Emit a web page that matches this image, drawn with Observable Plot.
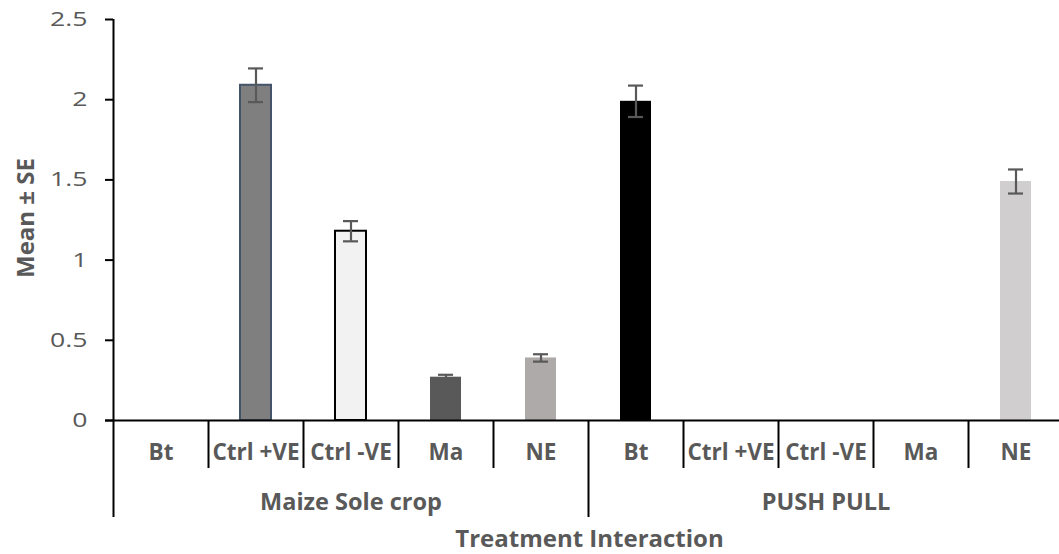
<!DOCTYPE html>
<html>
<head>
<meta charset="utf-8">
<script src="https://cdn.jsdelivr.net/npm/d3@7"></script>
<script src="https://cdn.jsdelivr.net/npm/@observablehq/plot@0.6"></script>
<style>
  html, body { margin: 0; padding: 0; background: #fff; }
  #chart svg { display: block; }
</style>
</head>
<body>
<div id="chart"></div>
<script>
// Cropping system and treatment for each of the ten bars
const systems = ["Maize Sole crop", "Maize Sole crop", "Maize Sole crop", "Maize Sole crop", "Maize Sole crop",
                 "PUSH PULL", "PUSH PULL", "PUSH PULL", "PUSH PULL", "PUSH PULL"];
const treatments = ["Bt", "Ctrl +VE", "Ctrl -VE", "Ma", "NE",
                    "Bt", "Ctrl +VE", "Ctrl -VE", "Ma", "NE"];
// Mean and standard error (0 where the combination has no value)
const means = [0, 2.09, 1.18, 0.27, 0.39, 1.99, 0, 0, 0, 1.49];
const errors = [0, 0.105, 0.063, 0.015, 0.023, 0.098, 0, 0, 0, 0.075];
const yTicks = [0, 0.5, 1, 1.5, 2, 2.5];
const systemNames = ["Maize Sole crop", "PUSH PULL"];

// Bar appearance per slot
const fillBySlot = ["none", "#7f7f7f", "#f2f2f2", "#595959", "#aeaaaa", "#000000", "none", "none", "none", "#d0cece"];
const strokeBySlot = ["none", "#44546a", "#000000", "none", "none", "none", "none", "none", "none", "none"];

const rows = treatments.map((t, i) => ({
  key: `${systems[i]}|${t}`,
  system: systems[i],
  treatment: t,
  mean: means[i],
  se: errors[i],
  fill: fillBySlot[i],
  stroke: strokeBySlot[i]
}));
const keys = rows.map(d => d.key);
const withValue = rows.filter(d => d.mean > 0);

// Layout of the plotting frame
const W = 1059, H = 554;
const frameLeft = 113, frameRight = 1063, frameTop = 19, frameBottom = 420;
const band = (frameRight - frameLeft) / keys.length;
const yMax = 2.5;
const px = p => -p * yMax / (frameBottom - frameTop); // pixels below the baseline, in y units

const textGray = "#595959";
const font = "'Open Sans', 'Noto Sans', sans-serif";

// Middle slot of each system, used to centre the system names
const systemRows = systemNames.map(s => {
  const r = rows.filter(d => d.system === s);
  return {system: s, key: r[Math.floor(r.length / 2)].key};
});

const chart = Plot.plot({
  width: W,
  height: H,
  marginLeft: frameLeft,
  marginRight: 0,
  marginTop: frameTop,
  marginBottom: H - frameBottom,
  style: {fontFamily: font, background: "#fff", overflow: "visible"},
  x: {type: "band", domain: keys, range: [frameLeft, frameRight], padding: 0, axis: null},
  y: {domain: [0, yMax], range: [frameBottom, frameTop], axis: null},
  marks: [
    // y tick labels and tick marks
    Plot.text(yTicks, {
      x: () => keys[0], y: d => d, text: d => String(d),
      dx: -band / 2 - 26, textAnchor: "end", fill: textGray, fontSize: 20.5,
      ariaDescription: "y-tick-labels"
    }),
    Plot.tickY(yTicks, {
      x: () => keys[0], y: d => d, dx: -8, insetRight: band - 8,
      stroke: "#000", strokeWidth: 2
    }),
    // bars
    Plot.barY(withValue, {
      x: "key", y: "mean", fill: "fill", stroke: "stroke", strokeWidth: 2,
      insetLeft: 32, insetRight: 32
    }),
    // error bars
    Plot.ruleX(withValue, {
      x: "key", y1: d => d.mean - d.se, y2: d => d.mean + d.se,
      stroke: textGray, strokeWidth: 2.2
    }),
    Plot.tickY(withValue, {
      x: "key", y: d => d.mean + d.se, insetLeft: 40, insetRight: 40,
      stroke: textGray, strokeWidth: 2.2
    }),
    Plot.tickY(withValue, {
      x: "key", y: d => d.mean - d.se, insetLeft: 40, insetRight: 40,
      stroke: textGray, strokeWidth: 2.2
    }),
    // baseline
    Plot.ruleY([0], {stroke: "#000", strokeWidth: 2, insetLeft: -8}),
    // y axis line, continued down to close the category table
    Plot.ruleX([keys[0]], {y1: yMax, y2: px(97), dx: -band / 2, stroke: "#000", strokeWidth: 2}),
    // short separators between treatments
    Plot.ruleX(rows.filter((d, i) => i > 0 && d.system === rows[i - 1].system), {
      x: "key", y1: 0, y2: px(48), dx: -band / 2, stroke: "#000", strokeWidth: 2
    }),
    // long separator between cropping systems
    Plot.ruleX(rows.filter((d, i) => i > 0 && d.system !== rows[i - 1].system), {
      x: "key", y1: 0, y2: px(97), dx: -band / 2, stroke: "#000", strokeWidth: 2
    }),
    // treatment labels
    Plot.text(rows, {
      x: "key", y: 0, text: "treatment", dy: 32, lineAnchor: "middle",
      fill: textGray, fontWeight: "bold", fontSize: 22.5
    }),
    // cropping system labels
    Plot.text(systemRows, {
      x: "key", y: 0, text: "system", dy: 82, lineAnchor: "middle",
      fill: textGray, fontWeight: "bold", fontSize: 23.5
    }),
    // axis titles
    Plot.text(["Treatment Interaction"], {
      frameAnchor: "bottom", dx: 3, dy: 119, lineAnchor: "middle",
      fill: textGray, fontWeight: "bold", fontSize: 24
    }),
    Plot.text(["Mean ± SE"], {
      frameAnchor: "left", dx: -87, dy: -2, rotate: -90,
      textAnchor: "middle", lineAnchor: "middle",
      fill: textGray, fontWeight: "bold", fontSize: 24
    })
  ]
});

// The value labels on the y axis are set in a wide face: stretch them horizontally
d3.select(chart).selectAll('g[aria-description="y-tick-labels"] text').each(function () {
  const t = this.getAttribute("transform") || "";
  this.setAttribute("transform", `${t} scale(1.3,1)`);
});

document.getElementById("chart").appendChild(chart);
</script>
</body>
</html>
